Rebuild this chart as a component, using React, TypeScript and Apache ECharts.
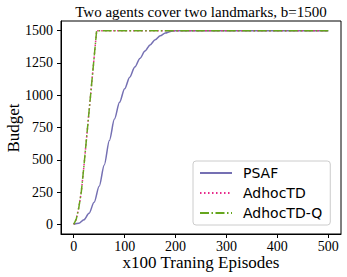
import React, { useEffect, useRef } from "react";
import * as echarts from "echarts";

const xTicks = [0, 100, 200, 300, 400, 500];
const yTicks = [0, 250, 500, 750, 1000, 1250, 1500];

const psafX = [0, 10, 20, 30, 40, 50, 60, 70, 80, 90, 100, 110, 120, 130, 140, 150, 160, 170, 180, 190, 200, 210, 220, 250, 300, 350, 400, 450, 500];
const psafY = [0, 8, 35, 85, 170, 295, 460, 650, 815, 945, 1050, 1140, 1218, 1285, 1342, 1390, 1430, 1461, 1482, 1494, 1499, 1500, 1500, 1500, 1500, 1500, 1500, 1500, 1500];

const adhocX = [0, 5, 10, 15, 20, 25, 30, 35, 40, 45, 50, 100, 200, 300, 400, 500];
const adhocTDY = [0, 40, 130, 255, 450, 660, 870, 1080, 1290, 1500, 1500, 1500, 1500, 1500, 1500, 1500];
const adhocTDQY = [0, 40, 130, 255, 450, 660, 870, 1080, 1290, 1500, 1500, 1500, 1500, 1500, 1500, 1500];

const titleText = "Two agents cover two landmarks, b=1500";
const xName = "x100 Traning Episodes";
const yName = "Budget";

const zip = (xs: number[], ys: number[]) => xs.map((x, i) => [x, ys[i]]);

export default function App() {
  const ref = useRef<HTMLDivElement>(null);
  useEffect(() => {
    if (!ref.current) return;
    const chart = echarts.init(ref.current, undefined, { renderer: "svg" });
    const serif = "Liberation Serif";
    chart.setOption({
      animation: false,
      backgroundColor: "#fff",
      graphic: [
        {
          type: "text",
          x: 201,
          y: 12,
          style: { text: titleText, font: `15px "${serif}"`, fill: "#000", textAlign: "center", textVerticalAlign: "middle" },
        },
        {
          type: "text",
          x: 201,
          y: 262.5,
          style: { text: xName, font: `17px "${serif}"`, lineHeight: 13, fill: "#000", textAlign: "center", textVerticalAlign: "middle" },
        },
        {
          type: "text",
          x: 13,
          y: 128,
          rotation: Math.PI / 2,
          style: { text: yName, font: `17px "${serif}"`, fill: "#000", textAlign: "center", textVerticalAlign: "middle" },
        },
      ],
      grid: {
        left: 61,
        right: 6,
        top: 21,
        bottom: 43,
        show: true,
        borderColor: "#000",
        borderWidth: 1,
        backgroundColor: "transparent",
        outerBoundsMode: "none",
        containLabel: false,
      },
      legend: {
        orient: "vertical",
        left: 193,
        top: 161,
        itemWidth: 32,
        itemHeight: 14,
        itemGap: 6,
        padding: [5, 8, 5, 6],
        borderColor: "#ccc",
        borderWidth: 1,
        borderRadius: 3,
        backgroundColor: "rgba(255,255,255,0.8)",
        itemStyle: { opacity: 0 },
        textStyle: { fontFamily: "DejaVu Sans", fontSize: 14, color: "#000", padding: [0, 0, 0, 6] },
        data: ["PSAF", "AdhocTD", "AdhocTD-Q"],
      },
      xAxis: {
        type: "value",
        min: -25,
        max: 525,
        axisLine: { show: true, onZero: false, lineStyle: { color: "#000" } },
        axisTick: { show: true, inside: false, length: 4, customValues: xTicks, lineStyle: { color: "#000" } },
        axisLabel: { customValues: xTicks, margin: 7, lineHeight: 11, fontFamily: serif, fontSize: 14, color: "#000", formatter: (v: number) => String(v) },
        splitLine: { show: false },
      },
      yAxis: {
        type: "value",
        min: -75,
        max: 1575,
        axisLine: { show: true, onZero: false, lineStyle: { color: "#000" } },
        axisTick: { show: true, inside: false, length: 4, customValues: yTicks, lineStyle: { color: "#000" } },
        axisLabel: { customValues: yTicks, margin: 8, fontFamily: serif, fontSize: 14, color: "#000", formatter: (v: number) => String(v) },
        splitLine: { show: false },
      },
      series: [
        {
          name: "PSAF",
          type: "line",
          data: zip(psafX, psafY),
          symbol: "none",
          smooth: 0.3,
          smoothMonotone: "x",
          color: "#7570b3",
          lineStyle: { width: 1.5, color: "#7570b3", type: "solid" },
        },
        {
          name: "AdhocTD",
          type: "line",
          data: zip(adhocX, adhocTDY),
          symbol: "none",
          color: "#e7298a",
          lineStyle: { width: 1.5, color: "#e7298a", type: [1.5, 2.5] },
        },
        {
          name: "AdhocTD-Q",
          type: "line",
          data: zip(adhocX, adhocTDQY),
          symbol: "none",
          color: "#66a61e",
          lineStyle: { width: 1.5, color: "#66a61e", type: [9, 2.5, 1.5, 2.5] },
        },
      ],
    });
    return () => chart.dispose();
  }, []);
  return <div ref={ref} style={{ width: 347, height: 277, position: "absolute", left: 0, top: 0 }} />;
}
